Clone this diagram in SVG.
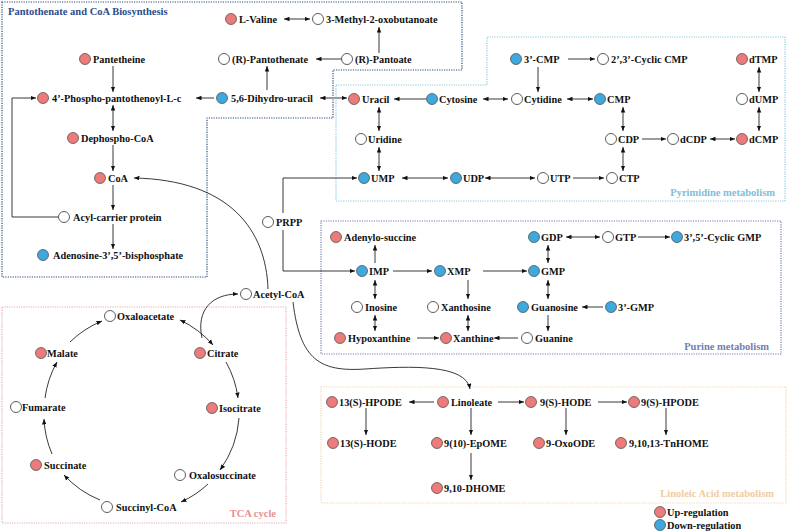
<svg xmlns="http://www.w3.org/2000/svg" width="788" height="532" viewBox="0 0 788 532">
<defs>
<marker id="ah" markerUnits="userSpaceOnUse" markerWidth="6" markerHeight="5" refX="5.5" refY="2.25" orient="auto-start-reverse"><path d="M0,0 L5.5,2.25 L0,4.5 Z" fill="#111"/></marker>
<style>
text{font-family:"Liberation Serif","Times New Roman",serif;font-weight:bold;font-size:10.3px;fill:#111}
.r{fill:#EC7B7B;stroke:#444;stroke-width:0.7}
.b{fill:#3FA8DC;stroke:#444;stroke-width:0.7}
.w{fill:#fff;stroke:#333;stroke-width:0.8}
.c line,.c path,.c polyline{stroke:#222;stroke-width:0.9;fill:none}
.c .g{stroke:#9A9A9A;stroke-width:2}
.e{marker-end:url(#ah)}
.d{marker-start:url(#ah);marker-end:url(#ah)}
.box{fill:none;stroke-width:1.2;stroke-dasharray:1.2 1.2}
.t{font-size:10.5px}
</style>
</defs>
<rect width="788" height="532" fill="#fff"/>
<g id="boxes">
<path class="box" d="M2,2 H462 V70 H333 V118 H207 V277 H2 Z" stroke="#2B4C7E"/>
<path class="box" d="M336,85 H487 V37 H785 V201 H336 Z" stroke="#8ACBE0"/>
<rect class="box" x="321" y="221" width="460" height="133" stroke="#6F80B0"/>
<rect class="box" x="2" y="307" width="284" height="216" stroke="#E8A8A8"/>
<rect class="box" x="321" y="387" width="465" height="116" stroke="#F2D5B0"/>
<text class="t" x="8" y="15" style="fill:#2B4C8C">Pantothenate and CoA Biosynthesis</text>
<text class="t" x="775" y="196" text-anchor="end" style="fill:#7DC0D8">Pyrimidine metabolism</text>
<text class="t" x="769" y="350" text-anchor="end" style="fill:#6F80B5">Purine metabolism</text>
<text class="t" x="276" y="517" text-anchor="end" style="fill:#E89090">TCA cycle</text>
<text class="t" x="774" y="497" text-anchor="end" style="fill:#F0CCA0">Linoleic Acid metabolism</text>
</g>
<g id="connectors" class="c">
<line class="d" x1="284" y1="19" x2="310" y2="19"/>
<line class="e" x1="379" y1="53" x2="379" y2="27"/>
<line class="e" x1="342" y1="59" x2="316" y2="59"/>
<line class="e" x1="267" y1="90" x2="267" y2="66"/>
<line class="e" x1="113" y1="66" x2="113" y2="92"/>
<line class="d" x1="113" y1="105" x2="113" y2="131"/>
<line class="e" x1="113" y1="145" x2="113" y2="171"/>
<line class="e" x1="113" y1="185" x2="113" y2="210"/>
<line class="e" x1="113" y1="224" x2="113" y2="249"/>
<polyline class="e" points="58,217 12,217 12,98 36,98"/>
<line class="g e" x1="214" y1="98" x2="196" y2="98"/>
<line class="g d" x1="320" y1="98" x2="347" y2="98"/>
<line class="g e" x1="426" y1="99" x2="394" y2="99"/>
<path class="e" d="M268,289 C266,230 230,180 134,178"/>
<line class="e" x1="568" y1="59" x2="595" y2="59"/>
<line class="e" x1="538" y1="67" x2="538" y2="92"/>
<line class="d" x1="483" y1="99" x2="508" y2="99"/>
<line class="d" x1="567" y1="99" x2="593" y2="99"/>
<line class="d" x1="759" y1="67" x2="759" y2="92"/>
<line class="d" x1="759" y1="107" x2="759" y2="131"/>
<line class="d" x1="623" y1="107" x2="623" y2="131"/>
<line class="e" x1="642" y1="139" x2="666" y2="139"/>
<line class="d" x1="710" y1="139" x2="735" y2="139"/>
<line class="d" x1="379" y1="107" x2="379" y2="131"/>
<line class="d" x1="379" y1="147" x2="379" y2="171"/>
<line class="d" x1="402" y1="178" x2="448" y2="178"/>
<line class="d" x1="485" y1="178" x2="535" y2="178"/>
<line class="e" x1="573" y1="178" x2="604" y2="178"/>
<line class="d" x1="623" y1="147" x2="623" y2="171"/>
<polyline class="e" points="283,213 283,178 357,178"/>
<polyline class="e" points="283,230 283,271 355,271"/>
<line class="e" x1="375" y1="263" x2="375" y2="245"/>
<line class="d" x1="548" y1="245" x2="548" y2="263"/>
<line class="d" x1="566" y1="237" x2="600" y2="237"/>
<line class="e" x1="638" y1="237" x2="670" y2="237"/>
<line class="e" x1="393" y1="271" x2="432" y2="271"/>
<line class="e" x1="483" y1="271" x2="527" y2="271"/>
<line class="d" x1="375" y1="280" x2="375" y2="299"/>
<line class="e" x1="468" y1="280" x2="468" y2="299"/>
<line class="d" x1="548" y1="280" x2="548" y2="299"/>
<line class="e" x1="603" y1="307" x2="582" y2="307"/>
<line class="d" x1="375" y1="315" x2="375" y2="331"/>
<line class="d" x1="468" y1="315" x2="468" y2="331"/>
<line class="e" x1="548" y1="315" x2="548" y2="331"/>
<line class="e" x1="417" y1="338" x2="439" y2="338"/>
<line class="e" x1="518" y1="338" x2="494" y2="338"/>
<path class="d" d="M180,320 A100,100 0 0 1 213,345"/>
<path class="e" d="M226,362 A100,100 0 0 1 238,398"/>
<path class="e" d="M239,418 A100,100 0 0 1 220,470"/>
<path class="e" d="M208,484 A100,100 0 0 1 181,502"/>
<path class="e" d="M100,500 A100,100 0 0 1 64,475"/>
<path class="e" d="M52,454 A100,100 0 0 1 44,419"/>
<path class="e" d="M45,398 A100,100 0 0 1 57,362"/>
<path class="e" d="M70,342 A100,100 0 0 1 102,321"/>
<path class="e" d="M202,338 C196,310 212,294 238,294"/>
<path class="e" d="M293,302 C300,360 320,372 365,369 C410,366 466,364 470,389"/>
<line class="e" x1="434" y1="402" x2="409" y2="402"/>
<line class="e" x1="366" y1="408" x2="366" y2="435"/>
<line class="e" x1="498" y1="402" x2="524" y2="402"/>
<line class="e" x1="598" y1="402" x2="627" y2="402"/>
<line class="e" x1="471" y1="408" x2="471" y2="435"/>
<line class="e" x1="471" y1="453" x2="471" y2="480"/>
<line class="e" x1="566" y1="408" x2="566" y2="435"/>
<line class="e" x1="666" y1="408" x2="666" y2="435"/>
</g>
<g id="n-lvaline"><circle class="r" cx="231" cy="19" r="5.5"/><text x="239" y="22.5">L-Valine</text></g>
<g id="n-methyl"><circle class="w" cx="318" cy="19" r="5.5"/><text x="326" y="22.5">3-Methyl-2-oxobutanoate</text></g>
<g id="n-pantoate"><circle class="w" cx="347" cy="59" r="5.5"/><text x="355" y="62.5">(R)-Pantoate</text></g>
<g id="n-pantothenate"><circle class="w" cx="224" cy="59" r="5.5"/><text x="232" y="62.5">(R)-Pantothenate</text></g>
<g id="n-pantetheine"><circle class="r" cx="85" cy="59" r="5.5"/><text x="93" y="62.5">Pantetheine</text></g>
<g id="n-phospho"><circle class="r" cx="43" cy="98" r="5.5"/><text x="52" y="101.5">4’-Phospho-pantothenoyl-L-c</text></g>
<g id="n-dihydrouracil"><circle class="b" cx="222" cy="98" r="5.5"/><text x="231" y="101.5">5,6-Dihydro-uracil</text></g>
<g id="n-dephospho"><circle class="r" cx="73" cy="138" r="5.5"/><text x="81" y="141.5">Dephospho-CoA</text></g>
<g id="n-coa"><circle class="r" cx="100" cy="178" r="5.5"/><text x="108" y="181.5">CoA</text></g>
<g id="n-acp"><circle class="w" cx="64" cy="217" r="5.5"/><text x="73" y="220.5">Acyl-carrier protein</text></g>
<g id="n-adenosine"><circle class="b" cx="43" cy="255" r="5.5"/><text x="53" y="258.5">Adenosine-3’,5’-bisphosphate</text></g>
<g id="n-prpp"><circle class="w" cx="268" cy="222" r="5.5"/><text x="276" y="225.5">PRPP</text></g>
<g id="n-3cmp"><circle class="b" cx="516" cy="59" r="5.5"/><text x="524" y="62.5">3’-CMP</text></g>
<g id="n-ccmp"><circle class="w" cx="603" cy="59" r="5.5"/><text x="611" y="62.5">2’,3’-Cyclic CMP</text></g>
<g id="n-dtmp"><circle class="r" cx="742" cy="59" r="5.5"/><text x="749" y="62.5">dTMP</text></g>
<g id="n-uracil"><circle class="r" cx="354" cy="99" r="5.5"/><text x="362" y="102.5">Uracil</text></g>
<g id="n-cytosine"><circle class="b" cx="432" cy="99" r="5.5"/><text x="439" y="102.5">Cytosine</text></g>
<g id="n-cytidine"><circle class="w" cx="517" cy="99" r="5.5"/><text x="524" y="102.5">Cytidine</text></g>
<g id="n-cmp"><circle class="b" cx="600" cy="99" r="5.5"/><text x="607" y="102.5">CMP</text></g>
<g id="n-dump"><circle class="w" cx="742" cy="99" r="5.5"/><text x="749" y="102.5">dUMP</text></g>
<g id="n-uridine"><circle class="w" cx="361" cy="139" r="5.5"/><text x="368" y="142.5">Uridine</text></g>
<g id="n-cdp"><circle class="w" cx="611" cy="139" r="5.5"/><text x="618" y="142.5">CDP</text></g>
<g id="n-dcdp"><circle class="w" cx="673" cy="139" r="5.5"/><text x="680" y="142.5">dCDP</text></g>
<g id="n-dcmp"><circle class="r" cx="742" cy="139" r="5.5"/><text x="749" y="142.5">dCMP</text></g>
<g id="n-ump"><circle class="b" cx="364" cy="178" r="5.5"/><text x="371" y="181.5">UMP</text></g>
<g id="n-udp"><circle class="b" cx="456" cy="178" r="5.5"/><text x="463" y="181.5">UDP</text></g>
<g id="n-utp"><circle class="w" cx="543" cy="178" r="5.5"/><text x="550" y="181.5">UTP</text></g>
<g id="n-ctp"><circle class="w" cx="612" cy="178" r="5.5"/><text x="619" y="181.5">CTP</text></g>
<g id="n-adenylo"><circle class="r" cx="336" cy="237" r="5.5"/><text x="344" y="240.5">Adenylo-succine</text></g>
<g id="n-gdp"><circle class="b" cx="534" cy="237" r="5.5"/><text x="541" y="240.5">GDP</text></g>
<g id="n-gtp"><circle class="w" cx="608" cy="237" r="5.5"/><text x="615" y="240.5">GTP</text></g>
<g id="n-cgmp"><circle class="b" cx="677" cy="237" r="5.5"/><text x="684" y="240.5">3’,5’-Cyclic GMP</text></g>
<g id="n-imp"><circle class="b" cx="362" cy="271" r="5.5"/><text x="369" y="274.5">IMP</text></g>
<g id="n-xmp"><circle class="b" cx="440" cy="271" r="5.5"/><text x="447" y="274.5">XMP</text></g>
<g id="n-gmp"><circle class="b" cx="534" cy="271" r="5.5"/><text x="541" y="274.5">GMP</text></g>
<g id="n-inosine"><circle class="w" cx="357" cy="307" r="5.5"/><text x="365" y="310.5">Inosine</text></g>
<g id="n-xanthosine"><circle class="w" cx="433" cy="307" r="5.5"/><text x="441" y="310.5">Xanthosine</text></g>
<g id="n-guanosine"><circle class="b" cx="523" cy="307" r="5.5"/><text x="531" y="310.5">Guanosine</text></g>
<g id="n-3gmp"><circle class="b" cx="611" cy="307" r="5.5"/><text x="618" y="310.5">3’-GMP</text></g>
<g id="n-hypoxanthine"><circle class="r" cx="340" cy="338" r="5.5"/><text x="348" y="341.5">Hypoxanthine</text></g>
<g id="n-xanthine"><circle class="r" cx="446" cy="338" r="5.5"/><text x="453" y="341.5">Xanthine</text></g>
<g id="n-guanine"><circle class="w" cx="527" cy="338" r="5.5"/><text x="535" y="341.5">Guanine</text></g>
<g id="n-acetylcoa"><circle class="w" cx="246" cy="294" r="5.5"/><text x="253" y="297.5">Acetyl-CoA</text></g>
<g id="n-oxaloacetate"><circle class="w" cx="110" cy="316" r="5.5"/><text x="117" y="319.5">Oxaloacetate</text></g>
<g id="n-citrate"><circle class="r" cx="200" cy="353" r="5.5"/><text x="207" y="356.5">Citrate</text></g>
<g id="n-isocitrate"><circle class="r" cx="212" cy="408" r="5.5"/><text x="219" y="411.5">Isocitrate</text></g>
<g id="n-oxalosuccinate"><circle class="w" cx="180" cy="475" r="5.5"/><text x="189" y="478.5">Oxalosuccinate</text></g>
<g id="n-succinylcoa"><circle class="w" cx="107" cy="507" r="5.5"/><text x="116" y="510.5">Succinyl-CoA</text></g>
<g id="n-succinate"><circle class="r" cx="36" cy="465" r="5.5"/><text x="44" y="468.5">Succinate</text></g>
<g id="n-fumarate"><circle class="w" cx="16" cy="407" r="5.5"/><text x="22" y="410.5">Fumarate</text></g>
<g id="n-malate"><circle class="r" cx="41" cy="353" r="5.5"/><text x="47" y="356.5">Malate</text></g>
<g id="n-13hpode"><circle class="r" cx="332" cy="402" r="5.5"/><text x="339" y="405.5">13(S)-HPODE</text></g>
<g id="n-linoleate"><circle class="r" cx="443" cy="402" r="5.5"/><text x="451" y="405.5">Linoleate</text></g>
<g id="n-9hode"><circle class="r" cx="531" cy="402" r="5.5"/><text x="540" y="405.5">9(S)-HODE</text></g>
<g id="n-9hpode"><circle class="r" cx="634" cy="402" r="5.5"/><text x="641" y="405.5">9(S)-HPODE</text></g>
<g id="n-13hode"><circle class="r" cx="333" cy="443" r="5.5"/><text x="340" y="446.5">13(S)-HODE</text></g>
<g id="n-epome"><circle class="r" cx="437" cy="443" r="5.5"/><text x="444" y="446.5">9(10)-EpOME</text></g>
<g id="n-oxoode"><circle class="r" cx="539" cy="443" r="5.5"/><text x="546" y="446.5">9-OxoODE</text></g>
<g id="n-tnhome"><circle class="r" cx="621" cy="443" r="5.5"/><text x="629" y="446.5">9,10,13-TnHOME</text></g>
<g id="n-dhome"><circle class="r" cx="437" cy="488" r="5.5"/><text x="444" y="491.5">9,10-DHOME</text></g>
<g id="legend">
<circle class="r" cx="660" cy="512" r="5.5"/><text x="667" y="515.5">Up-regulation</text>
<circle class="b" cx="660" cy="525" r="5.5"/><text x="667" y="528.5">Down-regulation</text>
</g>
</svg>
